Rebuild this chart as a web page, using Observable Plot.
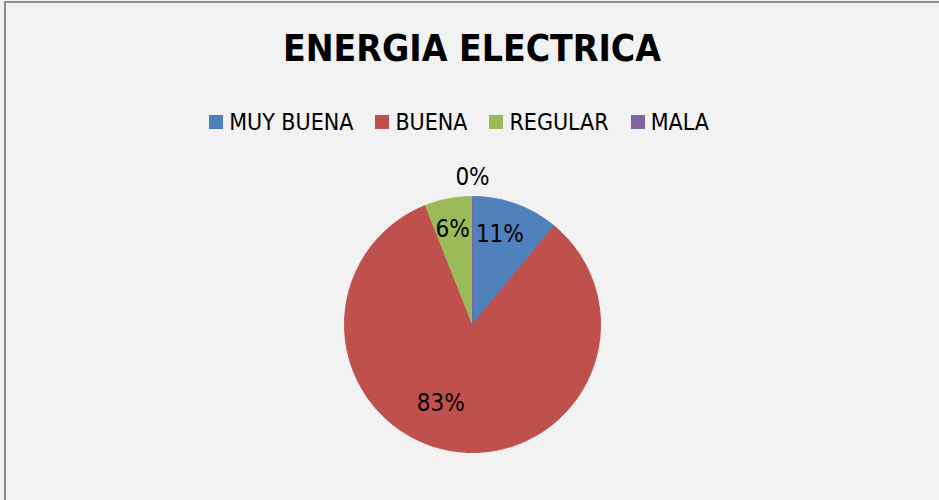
<!DOCTYPE html>
<html>
<head>
<meta charset="utf-8">
<script src="https://cdn.jsdelivr.net/npm/d3@7"></script>
<script src="https://cdn.jsdelivr.net/npm/@observablehq/plot@0.6"></script>
<style>
  html, body { margin: 0; padding: 0; background: #f2f2f2; }
  body { width: 939px; height: 500px; overflow: hidden; position: relative;
         font-family: "Liberation Sans Narrow", "Arial Narrow", "DejaVu Sans Condensed", sans-serif; }
  #frame { position: absolute; left: 4px; top: 1px; width: 960px; height: 520px;
           border-left: 2px solid #8c8c8c; border-top: 2px solid #8c8c8c; }
  #title { position: absolute; left: 0; top: 21px; width: 944px; text-align: center;
           font-size: 37px; font-weight: bold; color: #000; line-height: 56px; }
  #legend { position: absolute; left: -13px; top: 107px; width: 944px; display: flex;
            justify-content: center; font-size: 23px; line-height: 30px; color: #000; }
  .item { display: flex; align-items: center; margin: 0 11px; }
  .sw { width: 14px; height: 14px; margin-right: 6px; }
  #chart { position: absolute; left: 0; top: 150px; }
</style>
</head>
<body>
<div id="frame"></div>
<div id="title">ENERGIA ELECTRICA</div>
<div id="legend"></div>
<div id="chart"></div>
<script>
const categories = ["MUY BUENA", "BUENA", "REGULAR", "MALA"];
const values = [11, 83, 6, 0];
const labels = ["11%", "83%", "6%", "0%"];
const colors = ["#4f81bd", "#c0504d", "#9bbb59", "#8064a2"];

// layout (not data)
const W = 939, H = 330, R = 128, CX = 472, CY = 174; // pie center in svg pixels
const labelLayout = [
  {r: 0.74, da: -3},
  {r: 0.66, da: 13},
  {r: 0.76, da: -1},
  {r: 1.15, da: 0}
];

// legend
const leg = document.getElementById("legend");
categories.forEach((c, i) => {
  const it = document.createElement("div");
  it.className = "item";
  it.innerHTML = `<div class="sw" style="background:${colors[i]}"></div><span>${c}</span>`;
  leg.appendChild(it);
});

const arcs = d3.pie().sort(null).value(d => d)(values);
const deg = Math.PI / 180;

const polys = [];
arcs.forEach((a, i) => {
  const cat = categories[i];
  polys.push({cat, x: 0, y: 0});
  const steps = Math.max(2, Math.ceil((a.endAngle - a.startAngle) / (0.5 * deg)));
  for (let k = 0; k <= steps; k++) {
    const t = a.startAngle + (a.endAngle - a.startAngle) * k / steps;
    polys.push({cat, x: Math.sin(t), y: Math.cos(t)});
  }
  polys.push({cat, x: 0, y: 0});
});

const labelData = arcs.map((a, i) => {
  const m = (a.startAngle + a.endAngle) / 2 + labelLayout[i].da * deg;
  const r = labelLayout[i].r;
  return {label: labels[i], x: Math.sin(m) * r, y: Math.cos(m) * r};
});

const chart = Plot.plot({
  width: W, height: H,
  margin: 0,
  style: {background: "transparent", fontFamily: "'Liberation Sans Narrow', 'Arial Narrow', 'DejaVu Sans Condensed', sans-serif"},
  x: {domain: [-CX / R, (W - CX) / R], axis: null},
  y: {domain: [-(H - CY) / R, CY / R], axis: null},
  color: {domain: categories, range: colors},
  marks: [
    Plot.line(polys, {x: "x", y: "y", z: "cat", fill: "cat", stroke: "cat", strokeWidth: 1, curve: "linear"}),
    Plot.text(labelData, {x: "x", y: "y", text: "label", fill: "black", fontSize: 24})
  ]
});
document.getElementById("chart").appendChild(chart);
</script>
</body>
</html>
